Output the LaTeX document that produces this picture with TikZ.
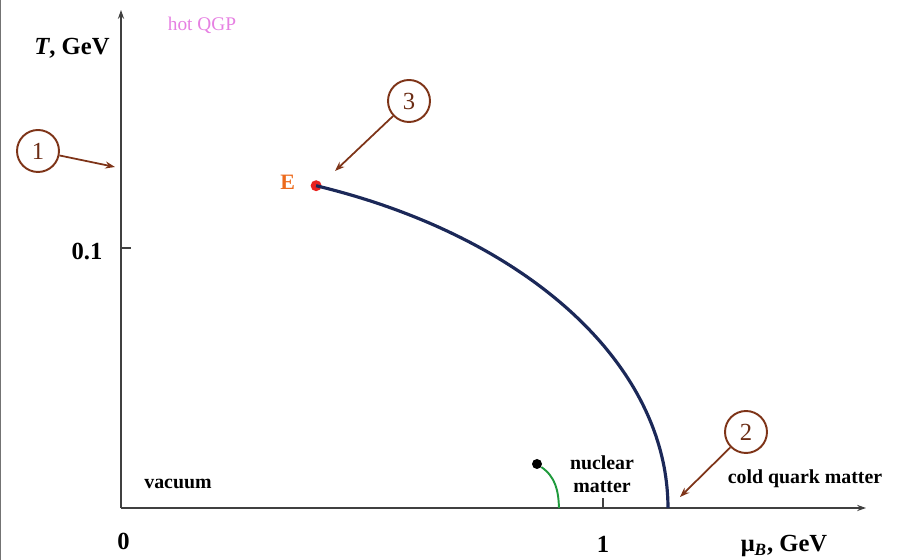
\documentclass[tikz,border=0pt]{standalone}
\usepackage{fontspec}
\setmainfont{Liberation Serif}
\usepackage{xcolor}
\usetikzlibrary{positioning,arrows.meta}

\definecolor{navy}{HTML}{1B2858}
\definecolor{callout}{HTML}{7E3418}
\definecolor{critred}{HTML}{E8221E}
\definecolor{eorange}{HTML}{EC6A1C}
\definecolor{nucgreen}{HTML}{1F9A3C}
\definecolor{qgppink}{HTML}{E680E2}

\begin{document}
\begin{tikzpicture}[x=0.02cm, y=0.02cm,
    axis/.style={draw=black!75, line width=0.8pt},
    axisarrow/.style={axis, -{Stealth[length=5pt, width=3.5pt]}},
    axislabel/.style={anchor=base, font=\bfseries\fontsize{14}{16}\selectfont},
    region/.style={font=\bfseries\fontsize{11.3}{13}\selectfont, align=center},
    numcircle/.style={circle, draw=callout, line width=1.1pt, minimum size=0.84cm, inner sep=0pt, text=callout!85!black, font=\fontsize{14}{16}\selectfont},
    pointer/.style={-{Stealth[length=5.5pt, width=4pt]}, draw=callout, line width=1pt},
    critline/.style={draw=navy, line width=1.8pt},
    critpoint/.style={circle, fill=critred, minimum size=0.22cm, inner sep=0pt},
    nucpoint/.style={circle, fill=black, minimum size=0.2cm, inner sep=0pt},
    nucline/.style={draw=nucgreen, line width=1.1pt}]

    \useasboundingbox (-121,-52) rectangle (779,508);
    \fill[black!55] (-121,-52) rectangle (-119.5,508);

    % axes
    \coordinate (origin) at (0,0);
    \coordinate (ytop) at (0,498);
    \coordinate (xend) at (745,0);
    \draw [axisarrow] (origin) -- (ytop);
    \draw [axisarrow] (origin) -- (xend);
    \draw [axis] (0,260) -- (10,260);
    \draw [axis] (482,0) -- (482,10);

    \node [axislabel] (zero) at (2.5,-42) {0};
    \node [axislabel] (one) at (482,-45) {1};
    \node [axislabel] (mulabel) at (663,-44) {μ\textsubscript{\textit{B}}, GeV};
    \node [axislabel] (tenth) at (-34,248) {0.1};
    \node [axislabel] (tlabel) at (-49,453) {\textit{T}, GeV};
    \node [anchor=base, text=qgppink, font=\fontsize{11}{13}\selectfont] (qgp) at (81,477) {hot QGP};

    % phase boundary
    \node [critpoint] (edot) at ({547*cos(69.1)},{345*sin(69.1)}) {};
    \node [left=0.18cm of edot, yshift=0.07cm, text=eorange, font=\bfseries\fontsize{12.5}{14}\selectfont] (elabel) {E};
    \draw [critline] plot[domain=69.1:0, samples=80, variable=\t] ({547*cos(\t)},{345*sin(\t)});

    % nuclear matter
    \node [nucpoint] (ndot) at (416,44) {};
    \coordinate (nfoot) at (438,0);
    \draw [nucline] (ndot) to[out=-35, in=92] (nfoot);

    \node [region, anchor=base] (vacuum) at (57,19) {vacuum};
    \node [region] (nuclear) at (481,34) {nuclear\\matter};
    \node [region, anchor=base] (cold) at (684,24) {cold quark matter};

    % callouts
    \node [numcircle] (c1) at (-83,357) {1};
    \node [numcircle] (c2) at (625,76) {2};
    \node [numcircle] (c3) at (288,407) {3};
    \coordinate (c1tip) at (-6,341);
    \coordinate (c2tip) at (559,11);
    \coordinate (c3tip) at (214,337);
    \draw [pointer] (c1) -- (c1tip);
    \draw [pointer] (c2) -- (c2tip);
    \draw [pointer] (c3) -- (c3tip);
\end{tikzpicture}
\end{document}
